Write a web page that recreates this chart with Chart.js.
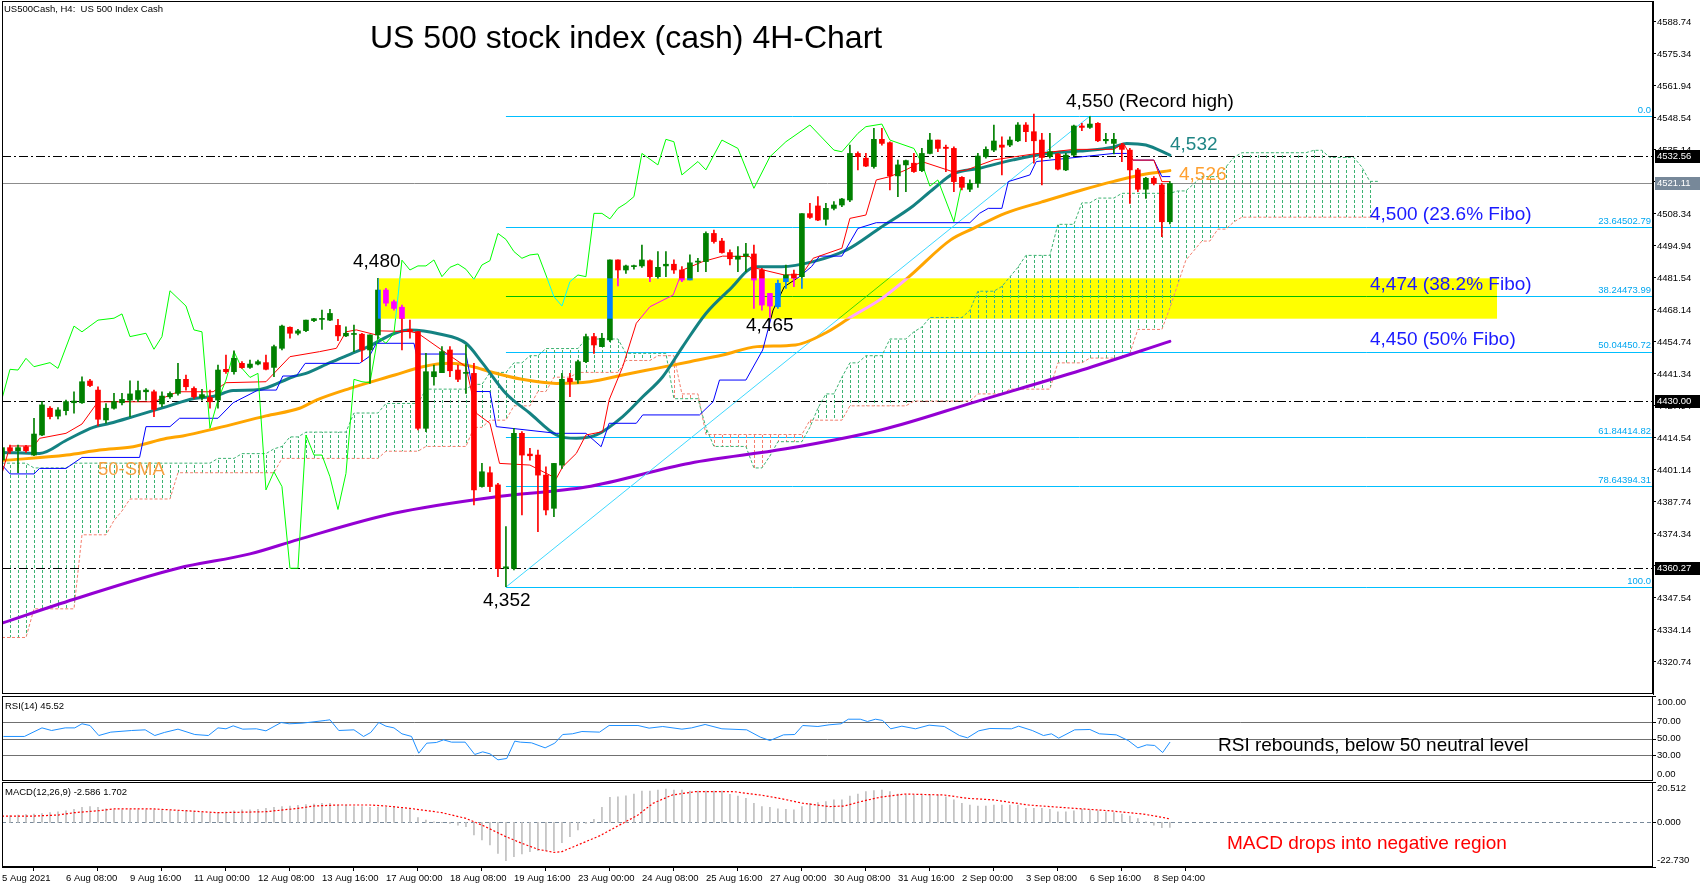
<!DOCTYPE html>
<html>
<head>
<meta charset="utf-8">
<title>US 500 stock index (cash) 4H-Chart</title>
<style>
  body { margin: 0; background: #fff; }
  canvas { position: absolute; left: 0; }
</style>
</head>
<body>
<canvas id="main" width="1705" height="695" style="top:0px"></canvas>
<canvas id="rsi" width="1705" height="85" style="top:696px"></canvas>
<canvas id="macd" width="1705" height="106" style="top:782px"></canvas>
<script src="https://cdn.jsdelivr.net/npm/chart.js"></script>
<script>
// --- data (4H bars, 5 Aug 2021 00:00 = bar 0) ---
const opens = [4405.3,4410.5,4409.2,4410.9,4407.4,4415.8,4427.0,4423.7,4426.0,4429.3,4429.3,4438.4,4434.6,4422.1,4427.0,4429.3,4430.4,4430.7,4433.9,4433.9,
  4428.8,4431.8,4433.2,4439.1,4435.3,4431.5,4431.5,4430.4,4443.3,4442.3,4445.8,4444.1,4445.5,4446.1,4444.1,4452.1,4460.9,4458.4,4459.5,4463.7,
  4464.2,4463.9,4461.7,4457.3,4457.9,4458.0,4451.4,4457.7,4476.5,4471.6,4469.3,4460.0,4459.1,4418.6,4440.2,4441.9,4451.4,4443.0,4441.6,4441.6,
  4394.2,4400.0,4394.9,4360.0,4359.9,4416.5,4407.8,4407.4,4399.0,4385.1,4403.2,4439.5,4438.8,4446.5,4457.0,4452.8,4455.6,4489.1,4484.9,4486.3,
  4486.6,4488.8,4482.1,4486.6,4487.3,4484.9,4480.7,4488.2,4488.4,4500.2,4497.0,4492.2,4489.4,4490.7,4491.6,4484.9,4475.1,4469.5,4480.0,4483.2,
  4482.1,4508.5,4511.7,4506.1,4510.7,4512.1,4514.2,4533.7,4531.7,4528.2,4539.6,4538.2,4524.3,4528.9,4529.6,4526.5,4533.7,4539.3,4536.3,4535.8,
  4523.7,4518.7,4521.2,4532.3,4535.1,4537.2,4537.2,4539.0,4545.6,4542.8,4539.3,4532.4,4533.5,4526.8,4533.0,4545.2,4544.6,4546.3,4539.0,4537.9,
  4537.2,4535.1,4526.8,4518.7,4523.3,4520.5,4505.1];
const highs = [4410.9,4411.6,4411.6,4411.5,4422.8,4429.8,4427.7,4427.3,4430.4,4433.9,4440.2,4439.1,4436.0,4429.0,4433.2,4433.2,4438.5,4438.4,4435.2,4434.6,
  4433.9,4433.9,4445.8,4440.9,4436.0,4434.9,4434.6,4445.1,4449.3,4451.0,4446.5,4447.2,4447.2,4449.3,4453.5,4461.8,4461.1,4460.0,4463.9,4464.6,
  4468.1,4468.4,4464.2,4461.1,4461.8,4458.4,4457.7,4481.4,4477.2,4472.3,4470.2,4463.9,4459.1,4450.0,4445.1,4452.8,4452.8,4445.1,4453.5,4445.8,
  4403.9,4402.5,4395.6,4377.4,4418.6,4417.2,4410.2,4409.5,4402.5,4403.9,4441.6,4441.6,4447.2,4458.1,4458.4,4458.4,4489.1,4489.1,4487.0,4487.0,
  4495.3,4489.1,4492.6,4492.6,4489.1,4486.3,4491.2,4489.8,4500.9,4501.6,4498.2,4493.3,4494.7,4496.1,4495.3,4485.6,4475.1,4480.7,4487.0,4484.9,
  4508.5,4512.8,4515.6,4512.8,4513.5,4514.9,4537.2,4534.4,4533.7,4544.2,4544.2,4538.6,4530.9,4530.9,4533.7,4535.8,4542.1,4539.3,4537.2,4536.5,
  4524.0,4522.6,4533.7,4536.5,4545.6,4540.7,4540.7,4546.6,4546.6,4550.2,4542.1,4542.1,4533.7,4533.7,4545.6,4546.3,4549.1,4546.6,4542.1,4542.1,
  4537.9,4535.8,4527.5,4523.7,4524.0,4521.2,4521.9];
const lows = [4403.2,4408.1,4400.0,4408.5,4407.1,4415.5,4422.5,4422.5,4424.2,4424.9,4429.0,4436.0,4419.6,4420.7,4426.6,4428.4,4423.5,4429.8,4430.4,4423.5,
  4427.7,4431.1,4432.5,4434.6,4431.1,4430.4,4427.0,4427.0,4441.6,4441.3,4443.7,4443.7,4445.1,4443.0,4440.2,4451.4,4456.3,4457.7,4459.1,4463.2,
  4460.0,4463.7,4455.3,4457.0,4450.7,4446.5,4437.4,4456.0,4469.8,4468.1,4451.4,4456.3,4417.9,4417.2,4436.7,4441.9,4440.2,4438.1,4433.2,4386.5,
  4394.0,4392.1,4356.5,4352.3,4359.3,4382.3,4405.3,4375.3,4382.3,4381.6,4401.8,4431.8,4437.4,4446.1,4450.0,4452.8,4454.9,4478.2,4483.5,4485.2,
  4486.0,4480.0,4481.4,4482.1,4483.5,4480.0,4480.7,4484.2,4484.2,4496.1,4491.9,4487.0,4484.2,4484.2,4468.8,4468.1,4465.0,4468.8,4477.2,4477.9,
  4477.2,4506.5,4505.5,4503.7,4510.0,4511.4,4513.5,4526.8,4528.2,4527.5,4537.2,4518.4,4515.6,4517.7,4525.7,4526.1,4533.5,4534.4,4526.1,4517.7,
  4518.4,4517.7,4519.5,4531.7,4534.4,4524.7,4536.5,4538.6,4538.6,4529.6,4520.5,4531.7,4526.8,4526.5,4532.6,4543.2,4544.2,4538.6,4537.9,4533.5,
  4530.3,4512.8,4517.7,4514.9,4520.5,4498.8,4504.2];
const closes = [4410.5,4409.1,4410.5,4409.2,4416.2,4428.4,4423.5,4426.3,4429.8,4430.0,4438.1,4436.5,4422.4,4427.0,4429.8,4430.7,4433.0,4434.4,4434.6,4426.5,
  4432.1,4433.2,4439.1,4436.0,4431.8,4432.7,4429.7,4443.0,4442.3,4447.9,4444.0,4445.5,4446.5,4443.3,4452.8,4461.4,4458.4,4459.4,4463.9,4464.5,
  4464.5,4466.7,4457.3,4458.4,4458.2,4451.4,4457.7,4476.5,4471.0,4468.8,4464.6,4459.1,4418.6,4442.3,4442.3,4450.7,4442.7,4439.1,4441.9,4392.8,
  4400.4,4394.2,4359.9,4360.6,4416.5,4407.4,4407.1,4399.0,4384.4,4403.9,4439.1,4438.1,4446.5,4457.0,4453.5,4456.3,4489.1,4484.9,4486.6,4486.6,
  4489.1,4482.1,4486.0,4487.3,4484.9,4480.7,4487.9,4488.6,4500.2,4496.8,4492.2,4489.6,4490.7,4491.6,4480.7,4470.2,4469.8,4479.3,4482.8,4481.4,
  4508.5,4506.9,4505.8,4510.7,4512.1,4514.6,4533.7,4532.4,4528.4,4539.6,4537.9,4524.3,4528.9,4530.7,4526.1,4533.7,4539.3,4535.8,4535.8,4521.9,
  4519.5,4521.2,4532.6,4535.4,4538.9,4536.3,4539.3,4545.6,4542.8,4539.0,4532.0,4534.4,4527.1,4533.0,4545.2,4544.6,4546.0,4539.0,4539.6,4539.6,
  4535.4,4526.8,4518.7,4523.3,4521.2,4505.1,4521.1];

// Ichimoku cloud spans (bar 0..172, shifted 26 bars forward)
const senkouA = [4404,4404,4404,4404,4402,4402,4402,4402,4402,4404,4404,4404,4404,4404,4404,4404,4404,4404,4404,4404,
  4404,4404,4404,4404,4404,4404,4404,4406,4406,4406,4408,4408,4408,4408,4410,4411,4415,4415,4417,4417,
  4417,4417,4417,4417,4425,4425,4425,4425,4429,4429,4429,4429,4429,4435,4435,4435,4435,4435,4435,4437,
  4437,4442,4442,4442,4446,4446,4449,4449,4452,4452,4452,4452,4452,4456,4456,4456,4456,4456,4450,4450,
  4450,4450,4450,4450,4431,4431,4431,4431,4419,4411,4411,4411,4411,4411,4402,4402,4407,4413,4413,4413,
  4413,4419,4427,4433,4433,4440,4446,4446,4449,4449,4449,4456,4456,4456,4459,4461,4465,4465,4465,4465,
  4465,4468,4476,4476,4476,4478,4482,4486,4491,4491,4491,4491,4504,4504,4504,4513,4513,4515,4515,4515,
  4517,4517,4517,4517,4517,4517,4517,4518,4518,4521,4524,4524,4524,4528,4532,4534,4534,4534,4534,4534,
  4534,4534,4534,4534,4535,4535,4532,4532,4532,4532,4528,4522,4522];
const senkouB = [4331,4331,4331,4331,4343,4343,4343,4343,4343,4343,4374,4374,4374,4374,4380,4384,4389,4389,4389,4389,
  4389,4389,4400,4400,4400,4400,4400,4400,4400,4400,4400,4400,4400,4400,4400,4406,4406,4406,4406,4406,
  4406,4406,4406,4406,4406,4406,4406,4406,4409,4409,4409,4409,4409,4411,4411,4411,4411,4411,4411,4419,
  4419,4422,4422,4422,4428,4428,4428,4434,4434,4440,4440,4440,4442,4442,4442,4442,4442,4442,4447,4447,
  4447,4447,4449,4449,4449,4433,4433,4433,4416,4416,4416,4416,4416,4416,4416,4416,4416,4416,4416,4416,
  4416,4422,4422,4422,4422,4422,4428,4428,4428,4428,4428,4428,4428,4428,4430,4430,4430,4430,4430,4430,
  4430,4430,4433,4433,4433,4433,4435,4435,4435,4435,4435,4435,4446,4446,4446,4446,4448,4448,4448,4448,
  4448,4450,4460,4460,4460,4460,4469,4479,4489,4493,4497,4497,4502,4502,4505,4507,4507,4507,4507,4507,
  4507,4507,4507,4507,4507,4507,4507,4507,4507,4507,4507,4507,4507];

// indicator lines: [bar, value]
const tenkan = [[0,4399.7],[1,4411.2],[4,4411.2],[4.7,4414.4],[8,4416.5],[10,4420.4],[12,4429.7],[19,4429.7],[22,4433.9],[26.4,4433.9],[28,4437.7],[33,4438.1],
  [36,4448.6],[39.7,4450.7],[41.8,4452.1],[43,4459],[44.3,4459.8],[46.8,4457.7],[47.2,4459.4],[51,4459.1],[52,4458.4],[56,4449],[58,4444.4],[59.3,4424.9],
  [61,4420.7],[62.2,4403.9],[66,4403.2],[69.3,4397.6],[70.1,4402.5],[71.8,4408.1],[73,4415.8],[75.1,4417.2],[75.9,4430.5],[77.6,4444.4],[79.3,4462.6],
  [81,4469.5],[83.9,4474.4],[85.1,4484.9],[87.6,4488.4],[90.1,4490.7],[93.5,4490.5],[94.3,4485.6],[97.8,4482.8],[100,4483],[101.4,4489.8],[105,4494],
  [106,4506.5],[108,4507.9],[109.3,4522.6],[111,4524],[113,4526.8],[115,4530.3],[118.9,4526],[120.6,4526.8],[124,4531],[129,4533.5],[134,4535.4],
  [139,4535.4],[140.2,4537.9],[141.4,4530.9],[144,4530.9],[145,4521.9],[146,4521.9]];
const kijun = [[0,4403.2],[1,4399.5],[4,4399.5],[4.7,4401.8],[8,4401.8],[10,4406.4],[17.2,4406.4],[18,4419.3],[21,4419.3],[22.2,4422.8],[27,4422.8],
  [28.9,4429.3],[32,4434.6],[34.3,4434.6],[35.1,4440.5],[36.8,4440.5],[37.9,4445.8],[44.7,4445.8],[45.9,4448.6],[46.8,4454.2],[51.5,4454.2],[51.8,4449.7],
  [58,4449.7],[58.9,4434],[61,4434],[61.8,4419.3],[69.3,4416.5],[73,4416.5],[74.9,4410.9],[75.9,4420.7],[79.3,4420.7],[80.1,4424.2],[87.2,4424.2],
  [88.9,4429.7],[89.7,4438.8],[93,4438.8],[95.1,4451.4],[96.4,4468.1],[97.8,4477.9],[99.7,4482.1],[101.2,4486.3],[102.2,4490.7],[105,4490.7],
  [107,4502.3],[109.3,4504.7],[121,4504.7],[122.2,4508.6],[123.3,4510.7],[125,4510.7],[125.8,4521.9],[128.5,4524.7],[129.3,4530.3],[139,4533.7],
  [140.6,4533.7],[141.4,4530.9],[144,4530.9],[145,4524],[146,4524]];
const chikou = [[0,4431],[1,4443.3],[2,4443],[3,4447.9],[4,4444.4],[6,4446.1],[7,4443.7],[9,4461.4],[10,4459],[12,4463.9],[14,4464.7],[15,4466.5],
  [16,4457],[18,4458.4],[19,4451.7],[20,4457],[21,4476.2],[23,4469.8],[24,4459.8],[25,4459],[26,4418.6],[27,4430.5],[28,4438.8],[29,4450.7],[30,4443.7],
  [31,4439.9],[32,4441.6],[33,4392.8],[34,4400.4],[35,4394.2],[36,4360],[37,4360],[38,4415.8],[39,4407.4],[40,4407.4],[41,4398.3],[42,4384.6],
  [43,4399.7],[44,4439.1],[45,4438.1],[46,4437.7],[47,4457],[48,4454.2],[49,4458.4],[50,4489],[51,4484.9],[52,4486.6],[53,4486.6],[54,4489.1],
  [55,4482.1],[56,4486],[57,4487.4],[58,4485.2],[59,4481],[60,4487],[61,4488.8],[62,4500.2],[63,4497.7],[64,4492.6],[65,4489.8],[66,4491.2],
  [67,4491.6],[68,4482.8],[69,4473.7],[70,4469.8],[71,4480],[72,4482.8],[73,4482.1],[74,4508.6],[75,4508.6],[76,4506.3],[77,4510.7],[78,4512.8],
  [79,4515.6],[80,4533.7],[82,4528.9],[83,4539.6],[84,4538.6],[85,4524.7],[87,4530.3],[88,4526.8],[90,4539.3],[92,4535.8],[94,4519.1],[96,4532.3],
  [98,4538.6],[101,4545.6],[104,4535.1],[105,4534.4],[107,4542.1],[108,4544.9],[110,4546],[111,4539.3],[114,4535.8],[115,4529.6],[116,4520],
  [117,4522.6],[119,4505.1],[120,4521.2]];
const sma20 = [[0,4408.5],[4.7,4408.1],[8.1,4413.7],[11.4,4419],[13.5,4420.7],[16.4,4423.5],[20.6,4427.7],[24,4431.1],[26.4,4431.9],[28.9,4434.4],
  [31.5,4434.6],[33.1,4435.6],[36.4,4440.2],[38,4441.6],[41,4446.1],[43.5,4449.6],[45.8,4452.8],[49.1,4458.4],[51,4459.8],[54.7,4458.1],[58,4454.2],
  [60.1,4445.8],[63,4433.2],[66,4424.9],[69.3,4415.8],[71.8,4414.4],[74.3,4415.8],[77.6,4423.5],[80.1,4431.8],[82.6,4440.2],[85.1,4452.8],
  [88,4466.7],[90.9,4476.5],[94.3,4486.3],[97.5,4486.3],[101.4,4488.4],[105.6,4493.3],[109.8,4502.6],[113.9,4511.7],[116.5,4519],[118.9,4525.1],
  [122.2,4527.5],[126.4,4531],[130.6,4533.7],[134.7,4534.7],[138.9,4536.3],[140.6,4537.9],[143,4537.2],[146,4533]];
const sma50 = [[0,4405.1],[8.1,4407.4],[12.2,4409.5],[16.4,4410.9],[20.6,4414.4],[22.6,4415.4],[26.8,4418.6],[33,4423.8],[37.2,4427],[39.3,4430.4],
  [43.5,4435.3],[49.1,4440.9],[52.6,4444.4],[56,4445.8],[58.9,4444.4],[61,4442.3],[65,4439.1],[69.3,4437.4],[73.5,4438.1],[77.6,4440.9],[81.8,4443.7],
  [86,4446.5],[90.1,4449.3],[94.4,4452.8],[99.2,4453.5],[103,4458.6],[106.2,4465.3],[110,4473],[113.4,4482.1],[118.6,4497.5],[121.5,4502.4],
  [125.4,4508.6],[130,4513.4],[135,4518.4],[139,4522],[143,4525.1],[146,4526.5]];
const sma200 = [[0,4337],[9,4347],[22,4360],[31,4366],[37,4372],[49,4383],[62,4390],[73,4394],[86,4404],[98,4410],[110,4418],[122,4430],
  [135,4443],[146,4455]];

// Fibonacci retracement 4352.1 (bar 63) -> 4549.3 (bar 136)
const fibAnchors = [[63, 4352.1], [136, 4549.3]];
const fibValues = [4549.3, 4502.79, 4473.99, 4450.72, 4414.82, 4394.31, 4352.1];
const fibLabels = ['0.0', '23.64502.79', '38.24473.99', '50.04450.72', '61.84414.82', '78.64394.31', '100.0'];
const keyLevels = [4532.56, 4430.00, 4360.27];
const lastPrice = 4521.11;
const zoneBars = [47, 186.9];
const zonePrices = [4464.5, 4481.4];
const priceTicks = [4588.74,4575.34,4561.94,4548.54,4535.14,4521.74,4508.34,4494.94,4481.54,4468.14,4454.74,4441.34,4427.94,4414.54,
  4401.14,4387.74,4374.34,4360.94,4347.54,4334.14,4320.74];

const rsi = [[0.2,52.4],[2.8,52.4],[5,62.5],[6.2,59.4],[7.9,62.5],[9.1,62.5],[10,67.3],[11,65.3],[12.1,53.5],[13.6,57.5],[16.2,59.4],[17.9,60.2],
  [19.1,53.5],[20.3,57.1],[22,61],[24.1,54.7],[25.8,53.5],[27,62.5],[28,61.4],[28.9,64.9],[30.1,61],[31.8,61.4],[33,59],[34.9,68.8],[35.9,67.3],
  [37.5,68],[40.4,71.2],[41,72],[42.1,59.4],[44,60.2],[45.2,52.4],[46.1,57.1],[47.1,68.8],[48,64.5],[49,62.5],[50,55.5],[51.2,52.4],[52.1,32.7],
  [53.1,44.5],[54.3,45.3],[55.2,48.4],[56.2,45.7],[57.9,45.7],[59.1,31.2],[60.1,34.3],[61,32],[62,24.9],[63.1,26.5],[64.1,46.9],[64.8,45.7],
  [66.2,44.9],[67.9,39],[69.1,44.5],[70.1,54.7],[71.3,55.5],[72.5,58.2],[74.7,57.5],[75.9,65.3],[79.5,65.3],[80.9,62.2],[82.6,64.1],[85,61],
  [86.2,62.5],[87.9,66.5],[90,61.4],[93.1,60.2],[94.8,51.6],[96,47.6],[97.7,54.3],[99.1,54.7],[100.1,65.3],[102,64.1],[103.4,66.1],[104.9,67.3],
  [105.8,72.7],[107.3,72.7],[108.2,70],[109.2,72.7],[110.1,71.2],[111.1,61.4],[112.5,64.5],[114.2,61.4],[115.9,65.7],[117.8,64.1],[119.7,53.5],
  [120.7,50.8],[122.1,59],[123.5,61.8],[126.2,61.4],[127.1,64.5],[128.8,59.4],[130.2,53.5],[131.2,55.5],[132.1,50.4],[134.1,60.2],[136,60.6],
  [137.2,55.5],[139.3,54.3],[140.8,47.6],[142,39],[143.1,42.5],[144.1,41.8],[145.1,33.5],[146,45.5]];
const rsiLevels = [70, 50, 30];
const rsiAxisValues = [100, 70, 50, 30, 0];
const rsiAxisLabels = ['100.00', '70.00', '50.00', '30.00', '0.00'];

const macdHist = [3.2,3.4,3.7,4.0,4.2,4.5,4.9,5.4,5.8,6.6,7.6,8.0,7.6,6.8,6.3,6.3,6.3,6.3,6.3,6.3,
  6.3,5.9,5.9,5.9,5.4,4.9,4.6,4.9,5.4,5.9,6.3,6.3,6.6,7.1,7.6,8.0,8.3,8.6,9.0,9.3,
  9.7,9.7,8.8,8.8,8.0,8.0,7.6,7.6,7.6,7.6,7.1,6.6,2.4,1.2,0.3,-0.2,-0.5,-1.4,-2.2,-6.4,
  -8.9,-11.5,-15.8,-19.5,-17.5,-16.1,-14.9,-14.4,-14.4,-14.4,-10.3,-7.3,-3.9,-0.5,1.5,7.6,12.7,13.0,13.5,14.4,
  15.9,15.9,16.4,16.9,16.4,16.4,15.9,15.9,15.9,15.9,15.9,14.2,13.4,12.2,9.7,8.0,7.6,6.8,6.6,6.3,
  8.0,9.7,10.0,10.5,11.4,11.4,13.4,14.4,15.6,16.1,16.4,15.6,14.4,13.9,13.9,13.9,13.9,13.9,13.0,11.4,
  9.7,8.8,8.3,8.3,8.8,8.8,8.8,8.8,7.1,7.1,7.1,6.6,5.4,5.4,5.9,6.6,6.3,5.9,5.4,4.9,
  4.2,3.2,1.9,0.3,-1.4,-2.7,-2.586];
const macdSignal = [[0,3.2],[4,3.2],[7,3.7],[9,4.9],[12,5.9],[14,6.8],[19,6.8],[23,5.9],[27,4.9],[33,5.4],[37,7.1],[39,8.3],[42,8.8],[46,8.8],
  [48,8.3],[51,7.1],[55,4.9],[58,2.0],[60,-1.4],[63,-7.3],[65,-10.7],[67,-13.7],[69,-15.3],[70,-14.9],[72,-11.5],[74.7,-6.9],[77.6,-0.5],[79.5,3.7],
  [81.4,9.7],[83.8,13.9],[86.7,15.6],[91.5,15.6],[94.8,13.9],[97.2,12.2],[100.1,9.7],[103.4,8.0],[105.3,8.3],[107.3,10.5],[109.7,12.7],[113,14.4],
  [117.8,13.9],[120.7,12.2],[124,11.4],[128.3,8.8],[134.1,7.1],[138.4,5.9],[142.7,4.2],[145.1,2.5],[146,1.702]];
const macdAxisValues = [20.512, 0, -22.730];
const macdAxisLabels = ['20.512', '0.000', '-22.730'];

const timeTicks = [0,8,16,24,32,40,48,56,64,72,80,88,96,104,112,120,128,136,144];
const timeLabels = ['5 Aug 2021','6 Aug 08:00','9 Aug 16:00','11 Aug 00:00','12 Aug 08:00','13 Aug 16:00','17 Aug 00:00','18 Aug 08:00',
  '19 Aug 16:00','23 Aug 00:00','24 Aug 08:00','25 Aug 16:00','27 Aug 00:00','30 Aug 08:00','31 Aug 16:00','2 Sep 00:00','3 Sep 08:00',
  '6 Sep 16:00','8 Sep 04:00'];

// --- chart setup ---
const FONT = '"Liberation Sans", Arial, sans-serif';
Chart.defaults.font.family = FONT;
Chart.defaults.font.size = 10;
Chart.defaults.color = '#000';

const X_MIN = 0, X_MAX = 206.4;
const AXIS_W = 52;
const pts = arr => arr.map(p => ({x: p[0], y: p[1]}));
const up = closes.map((c, i) => c >= opens[i]);

function hatch(ctx, color) {
  const c = document.createElement('canvas');
  c.width = 8; c.height = 5;
  const g = c.getContext('2d');
  g.fillStyle = color;
  g.fillRect(2, 0, 1, 3);
  return ctx.createPattern(c, 'repeat');
}

function hline(g, x0, x1, py) {
  const yy = Math.round(py) + 0.5;
  g.beginPath(); g.moveTo(x0, yy); g.lineTo(x1, yy); g.stroke();
}

function text(g, s, x, y, size, color, align) {
  g.font = size + 'px ' + FONT;
  g.fillStyle = color;
  g.textAlign = align || 'left';
  g.textBaseline = 'middle';
  g.fillText(s, x, y);
}

function whiteBg(c) {
  const g = c.ctx;
  g.save(); g.fillStyle = '#fff'; g.fillRect(0, 0, c.width, c.height); g.restore();
}

function frame(c) {
  const g = c.ctx, a = c.chartArea;
  g.save();
  g.strokeStyle = '#000'; g.lineWidth = 1;
  g.strokeRect(a.left + 0.5, a.top + 0.5, a.right - a.left - 1, a.bottom - a.top - 1);
  g.restore();
}

function sideLabels(c, values, labels) {
  const g = c.ctx, a = c.chartArea, y = c.scales.y;
  g.save();
  g.strokeStyle = '#000'; g.lineWidth = 1;
  values.forEach((v, i) => {
    const py = y.getPixelForValue(v);
    const ly = Math.min(Math.max(py, a.top + 6), a.bottom - 7);
    hline(g, a.right, a.right + 3, py);
    text(g, labels[i], a.right + 4, ly, 9.5, '#000');
  });
  g.restore();
}

const yFit = s => { s.width = AXIS_W; s.paddingTop = 0; s.paddingBottom = 0; };
const hiddenX = { type: 'linear', min: X_MIN, max: X_MAX, display: false, offset: false };

// ---------- main price window ----------
const mainCtx = document.getElementById('main').getContext('2d');
const greenHatch = hatch(mainCtx, '#3cb371');
const redHatch = hatch(mainCtx, '#f47f6e');

const mainDecor = {
  id: 'mainDecor',
  beforeDraw: whiteBg,
  beforeDatasetsDraw(c) {
    const g = c.ctx, a = c.chartArea, x = c.scales.x, y = c.scales.y;
    g.save();
    g.beginPath(); g.rect(a.left, a.top, a.right - a.left, a.bottom - a.top); g.clip();
    g.lineWidth = 1;
    g.strokeStyle = '#8c8c8c';
    hline(g, a.left, a.right, y.getPixelForValue(lastPrice));
    g.strokeStyle = '#000';
    g.setLineDash([9, 3, 2, 3]);
    keyLevels.forEach(v => hline(g, a.left, a.right, y.getPixelForValue(v)));
    g.setLineDash([]);
    g.strokeStyle = '#00bfff';
    const fx = x.getPixelForValue(fibAnchors[0][0]);
    fibValues.forEach(v => hline(g, fx, a.right, y.getPixelForValue(v)));
    g.restore();
  },
  afterDatasetsDraw(c) {
    const g = c.ctx, a = c.chartArea, x = c.scales.x, y = c.scales.y;
    // highlighted zone, drawn the MT4 way (inverting what lies under it)
    g.save();
    g.globalCompositeOperation = 'difference';
    g.fillStyle = '#0000ff';
    const zx0 = x.getPixelForValue(zoneBars[0]), zx1 = x.getPixelForValue(zoneBars[1]);
    const zy0 = y.getPixelForValue(zonePrices[1]), zy1 = y.getPixelForValue(zonePrices[0]);
    g.fillRect(zx0, zy0, zx1 - zx0, zy1 - zy0);
    g.restore();

    g.save();
    fibValues.forEach((v, i) => {
      g.font = '9.5px ' + FONT; g.fillStyle = '#00a6f0';
      g.textAlign = 'right'; g.textBaseline = 'bottom';
      g.fillText(fibLabels[i], a.right - 2, y.getPixelForValue(v) - 1);
    });
    text(g, 'US500Cash, H4:  US 500 Index Cash', 4, 9, 9.5, '#000');
    text(g, 'US 500 stock index (cash) 4H-Chart', 370, 39, 32, '#000');
    text(g, '4,550 (Record high)', 1066, 102, 19, '#000');
    text(g, '4,532', 1170, 145, 19, '#1f8585');
    text(g, '4,526', 1179, 175, 19, '#ffa030');
    text(g, '4,500 (23.6% Fibo)', 1370, 215, 19, '#1a1aff');
    text(g, '4,474 (38.2% Fibo)', 1370, 285, 19, '#1a1aff');
    text(g, '4,450 (50% Fibo)', 1370, 340, 19, '#1a1aff');
    text(g, '4,480', 353, 262, 19, '#000');
    text(g, '4,465', 746, 326, 19, '#000');
    text(g, '4,352', 483, 601, 19, '#000');
    text(g, '50-SMA', 98, 470, 18.5, '#f5a040');
    g.restore();
    frame(c);
  },
  afterDraw(c) {
    const g = c.ctx, a = c.chartArea, y = c.scales.y;
    const tags = [[keyLevels[0], '#000'], [lastPrice, '#778899'], [keyLevels[1], '#000'], [keyLevels[2], '#000']];
    g.save();
    tags.forEach(([v, bg]) => {
      const py = Math.round(y.getPixelForValue(v));
      g.fillStyle = bg;
      g.fillRect(a.right + 2, py - 6, 45, 13);
      text(g, v.toFixed(2), a.right + 4, py + 0.5, 9.5, '#fff');
    });
    g.restore();
  }
};

const lineDs = (data, color, width, order, extra) => Object.assign({
  type: 'line', data: pts(data), borderColor: color, borderWidth: width, pointRadius: 0,
  tension: 0, fill: false, order: order, borderJoinStyle: 'round', borderCapStyle: 'round'
}, extra || {});

new Chart(mainCtx, {
  type: 'bar',
  data: {
    datasets: [
      { type: 'line', data: senkouA.map((v, i) => ({x: i, y: v})), borderColor: '#3cb371', borderWidth: 1, borderDash: [3, 2],
        pointRadius: 0, tension: 0, order: 11, fill: { target: '+1', above: greenHatch, below: redHatch } },
      { type: 'line', data: senkouB.map((v, i) => ({x: i, y: v})), borderColor: '#f47f6e', borderWidth: 1, borderDash: [3, 2],
        pointRadius: 0, tension: 0, order: 12, fill: false },
      lineDs(sma200, '#9400d3', 3, 9, { cubicInterpolationMode: 'monotone' }),
      lineDs(fibAnchors, '#3fd9ff', 1, 8),
      lineDs(sma50, '#ffa500', 3, 7, { cubicInterpolationMode: 'monotone' }),
      lineDs(sma20, '#148282', 3, 6, { cubicInterpolationMode: 'monotone' }),
      lineDs(kijun, '#0000ff', 1, 5),
      lineDs(tenkan, '#ff0000', 1, 4),
      lineDs(chikou, '#00ff00', 1, 3),
      { data: lows.map((l, i) => ({x: i, y: [l, highs[i]]})), backgroundColor: up.map(u => u ? '#008000' : '#ff0000'),
        barThickness: 1, grouped: false, order: 1 },
      { data: opens.map((o, i) => ({x: i, y: [o, closes[i]]})), backgroundColor: up.map(u => u ? '#008000' : '#ff0000'),
        barThickness: 5, minBarLength: 1, grouped: false, order: 0 }
    ]
  },
  options: {
    responsive: false, animation: false, devicePixelRatio: 1, events: [],
    layout: { padding: { left: 2, top: 1, right: 0, bottom: 1 } },
    plugins: { legend: { display: false }, tooltip: { enabled: false } },
    scales: {
      x: hiddenX,
      y: {
        position: 'right', min: 4307.34, max: 4597.53,
        afterBuildTicks: s => { s.ticks = priceTicks.map(v => ({value: v})); },
        afterFit: yFit,
        ticks: { callback: v => v.toFixed(2), padding: 1, font: { size: 9.5 }, color: '#000' },
        grid: { drawOnChartArea: false, tickLength: 3, color: '#000' },
        border: { color: '#000' }
      }
    }
  },
  plugins: [mainDecor]
});

// ---------- RSI window ----------
new Chart(document.getElementById('rsi').getContext('2d'), {
  type: 'line',
  data: { datasets: [ lineDs(rsi, '#1e90ff', 1, 0) ] },
  options: {
    responsive: false, animation: false, devicePixelRatio: 1, events: [],
    layout: { padding: { left: 2, top: 0, right: 0, bottom: 0 } },
    plugins: { legend: { display: false }, tooltip: { enabled: false } },
    scales: {
      x: hiddenX,
      y: { position: 'right', min: 0, max: 100, afterFit: yFit, ticks: { display: false }, grid: { display: false }, border: { display: false } }
    }
  },
  plugins: [{
    id: 'rsiDecor',
    beforeDraw: whiteBg,
    beforeDatasetsDraw(c) {
      const g = c.ctx, a = c.chartArea, y = c.scales.y;
      g.save(); g.strokeStyle = '#707070'; g.lineWidth = 1;
      rsiLevels.forEach(v => hline(g, a.left, a.right, y.getPixelForValue(v)));
      g.restore();
    },
    afterDatasetsDraw(c) {
      const g = c.ctx;
      frame(c);
      sideLabels(c, rsiAxisValues, rsiAxisLabels);
      text(g, 'RSI(14) 45.52', 5, 10, 9.5, '#000');
      text(g, 'RSI rebounds, below 50 neutral level', 1218, 50, 19, '#000');
    }
  }]
});

// ---------- MACD window ----------
new Chart(document.getElementById('macd').getContext('2d'), {
  type: 'bar',
  data: {
    datasets: [
      lineDs(macdSignal, '#ff0000', 1.2, 0, { borderDash: [2, 2], borderCapStyle: 'butt' }),
      { data: macdHist.map((v, i) => ({x: i, y: v})), backgroundColor: '#c0c0c0', barThickness: 1, grouped: false, order: 1 }
    ]
  },
  options: {
    responsive: false, animation: false, devicePixelRatio: 1, events: [],
    layout: { padding: { left: 2, top: 0, right: 0, bottom: 0 } },
    plugins: { legend: { display: false }, tooltip: { enabled: false } },
    scales: {
      x: {
        type: 'linear', min: X_MIN, max: X_MAX, offset: false,
        afterBuildTicks: s => { s.ticks = timeTicks.map(v => ({value: v})); },
        afterFit: s => { s.height = 21; s.paddingLeft = 0; s.paddingRight = 0; },
        ticks: { callback: v => timeLabels[timeTicks.indexOf(v)], align: 'start', maxRotation: 0, autoSkip: false,
                 padding: 2, font: { size: 9.5 }, color: '#000' },
        grid: { drawOnChartArea: false, tickLength: 4, color: '#000' },
        border: { color: '#000' }
      },
      y: { position: 'right', min: -22.73, max: 20.512, afterFit: yFit, ticks: { display: false }, grid: { display: false }, border: { display: false } }
    }
  },
  plugins: [{
    id: 'macdDecor',
    beforeDraw: whiteBg,
    beforeDatasetsDraw(c) {
      const g = c.ctx, a = c.chartArea, y = c.scales.y;
      g.save(); g.strokeStyle = '#778899'; g.lineWidth = 1; g.setLineDash([4, 3]);
      hline(g, a.left, a.right, y.getPixelForValue(0));
      g.restore();
    },
    afterDatasetsDraw(c) {
      const g = c.ctx;
      frame(c);
      sideLabels(c, macdAxisValues, macdAxisLabels);
      text(g, 'MACD(12,26,9) -2.586 1.702', 5, 10, 9.5, '#000');
      text(g, 'MACD drops into negative region', 1227, 62, 19, '#ff0000');
    }
  }]
});
</script>
</body>
</html>
